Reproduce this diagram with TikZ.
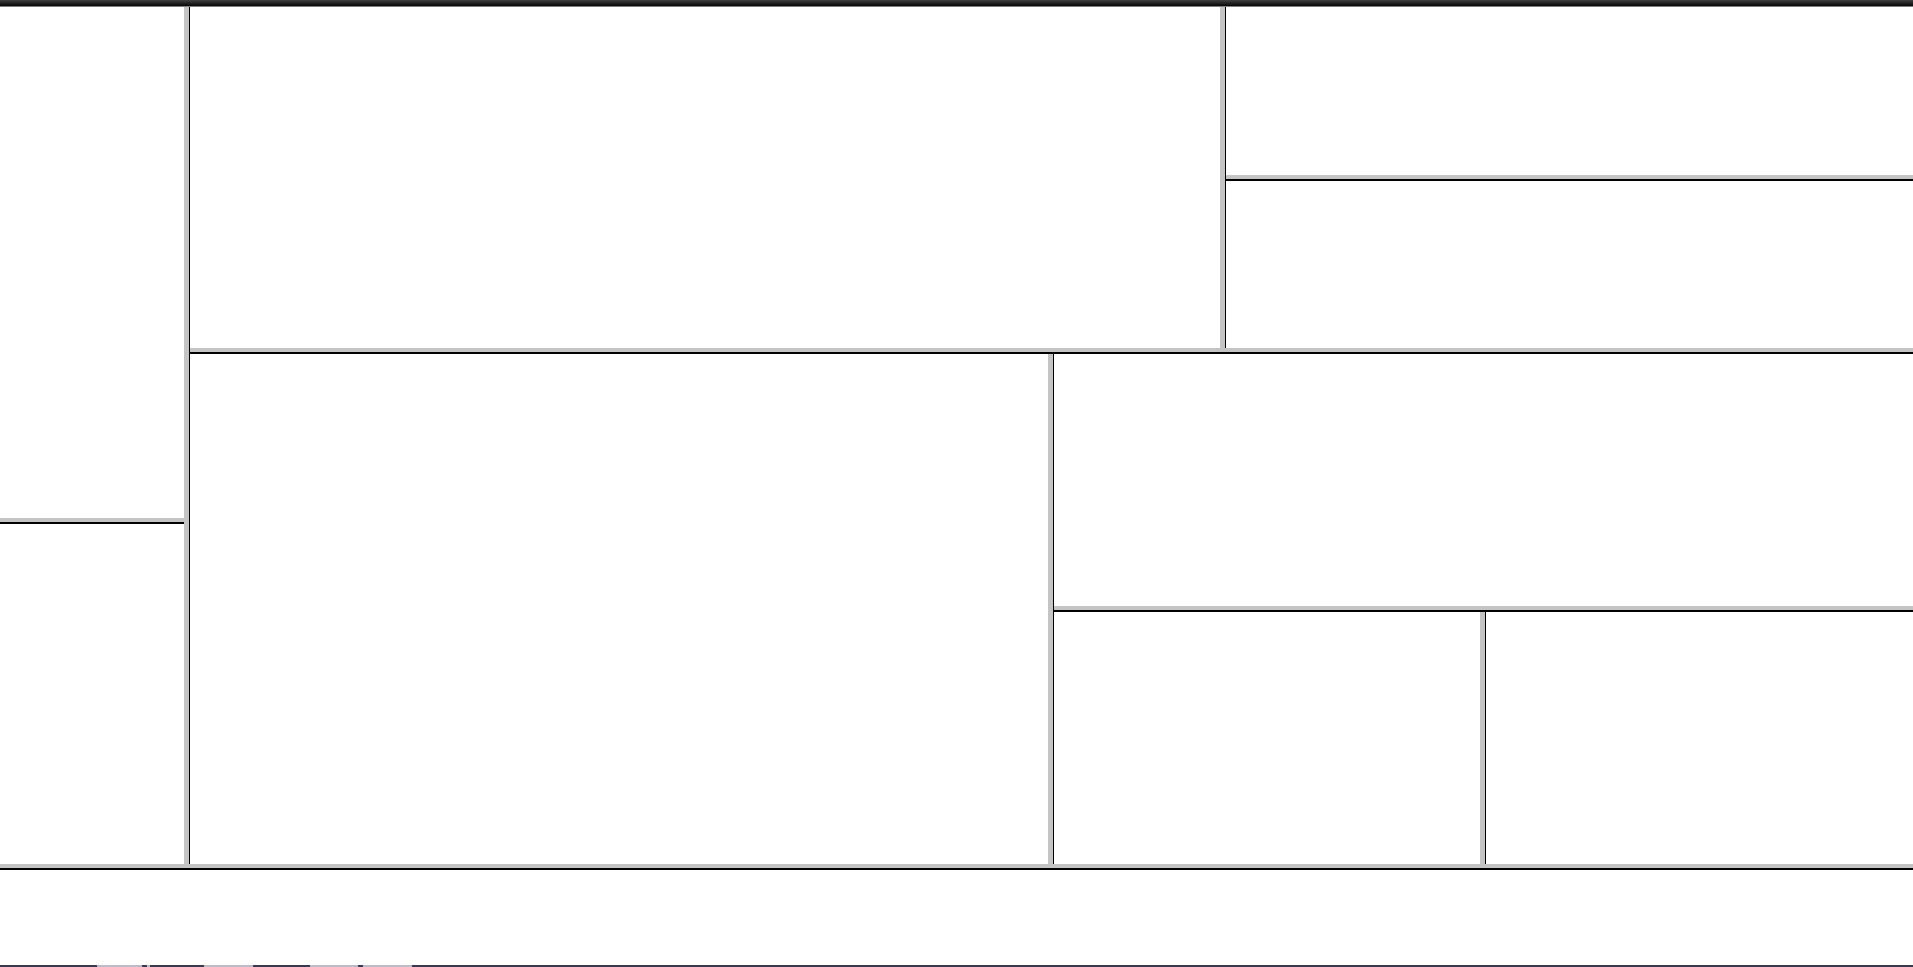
\documentclass[tikz,border=0pt]{standalone}
\usepackage{tikz}

\begin{document}
\begin{tikzpicture}[
        x=0.5pt, y=-0.5pt,
        sash/.style={fill={rgb,255:red,196;green,196;blue,196}},
        edge/.style={fill=black},
        taskbar/.style={fill={rgb,255:red,58;green,54;blue,98}},
        button/.style={fill={rgb,255:red,190;green,186;blue,206}}
      ]
      \useasboundingbox (0,0) rectangle (1913,967);
      \fill[white] (0,0) rectangle (1913,967);
      % vertical sashes: x / top / bottom
      \foreach \x/\ya/\yb in {184/7/864, 1220/7/348, 1048/353/864, 1480/611/864} {
        \fill[sash] (\x,\ya) rectangle (\x+4.5,\yb);
        \fill[edge] (\x+4.5,\ya) rectangle (\x+6,\yb);
      }
      % horizontal sashes: left / right / y
      \foreach \xa/\xb/\y in {0/184/518, 190/1913/348, 1226/1913/175, 1054/1913/606, 0/1913/864} {
        \fill[sash] (\xa,\y) rectangle (\xb,\y+4.2);
        \fill[edge] (\xa,\y+4.2) rectangle (\xb,\y+5.6);
      }
      % title bar
      \shade[top color={rgb,255:red,60;green,60;blue,60}, bottom color=black] (0,0) rectangle (1913,6);
      \fill[gray] (0,6) rectangle (1913,7);
      % task bar
      \fill[taskbar] (0,965) rectangle (1913,967);
      \foreach \xa/\xb in {97/142, 147/150, 204/253, 310/358, 363/412} {
        \fill[button] (\xa,965.3) rectangle (\xb,967);
      }
      \end{tikzpicture}
\end{document}
